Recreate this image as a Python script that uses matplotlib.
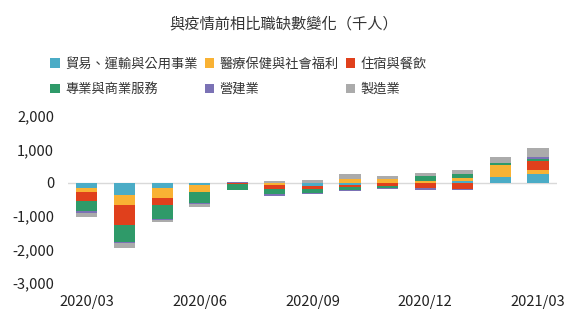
import matplotlib
matplotlib.use("Agg")
from matplotlib import pyplot as plt
from matplotlib.patches import Patch
import numpy as np

plt.rcParams['font.family'] = ['Noto Sans CJK TC', 'DejaVu Sans']

# 月份 (2020/03 - 2021/03)
MONTHS = ["2020/03", "2020/04", "2020/05", "2020/06", "2020/07", "2020/08", "2020/09",
          "2020/10", "2020/11", "2020/12", "2021/01", "2021/02", "2021/03"]

SERIES = ["貿易、運輸與公用事業", "醫療保健與社會福利", "住宿與餐飲",
          "專業與商業服務", "營建業", "製造業"]

TRADE = [-150, -360, -170, -60, 0, 0, -100, -70, 0, 0, 60, 170, 250]
HEALTH = [-110, -290, -280, -200, 0, -60, 0, 120, 100, 40, 70, 360, 120]
LEISURE = [-290, -600, -200, -10, -50, -120, -80, -60, -110, -170, -180, 0, 270]
PROF = [-280, -510, -430, -320, -180, -150, -110, -80, -60, 160, 130, 60, 60]
CONSTR = [-70, -40, -20, -40, 30, -50, -50, -40, -30, -60, -40, 0, 70]
MANUF = [-110, -150, -80, -90, 0, 60, 90, 150, 110, 100, 120, 170, 260]

COLORS = ["#4bacc6", "#f9b234", "#e0401c", "#2f9a69", "#7b72b5", "#ababab"]

data = [TRADE, HEALTH, LEISURE, PROF, CONSTR, MANUF]

fig = plt.figure(figsize=(5.67, 3.26), dpi=100)
ax = fig.add_axes([0.12, 0.132, 0.862, 0.512])

x = np.arange(len(MONTHS))
pos_bottom = np.zeros(len(MONTHS))
neg_bottom = np.zeros(len(MONTHS))
for vals, col in zip(data, COLORS):
    v = np.array(vals, dtype=float)
    bottom = np.where(v >= 0, pos_bottom, neg_bottom)
    ax.bar(x, v, width=0.56, bottom=bottom, color=col, linewidth=0)
    pos_bottom += np.where(v > 0, v, 0)
    neg_bottom += np.where(v < 0, v, 0)

ax.axhline(0, color="#d9d9d9", linewidth=1, zorder=0)
ax.set_xlim(-0.5, len(MONTHS) - 0.5)
ax.set_ylim(-3000, 2000)
ax.set_yticks([-3000, -2000, -1000, 0, 1000, 2000])
ax.set_yticklabels(["-3,000", "-2,000", "-1,000", "0", "1,000", "2,000"], fontsize=10.5, color="#222222")
ax.set_xticks(x[::3])
ax.set_xticklabels(MONTHS[::3], fontsize=10.5, color="#222222")
ax.tick_params(axis="both", length=0)
ax.tick_params(axis="x", pad=9)
ax.tick_params(axis="y", pad=10)
for s in ax.spines.values():
    s.set_visible(False)

fig.text(0.5, 0.926, "與疫情前相比職缺數變化（千人）", ha="center", va="center",
         fontsize=11, color="#333333")

handles = [Patch(facecolor=c, edgecolor="none") for c in COLORS]
order = [0, 3, 1, 4, 2, 5]
fig.legend([handles[i] for i in order], [SERIES[i] for i in order], ncol=3,
           loc="upper left", bbox_to_anchor=(0.068, 0.86), frameon=False,
           fontsize=9.5, handlelength=0.7, handleheight=0.7, handletextpad=0.4,
           columnspacing=0.55, labelspacing=0.95, labelcolor="#333333")

fig.savefig("out.png", dpi=100)
